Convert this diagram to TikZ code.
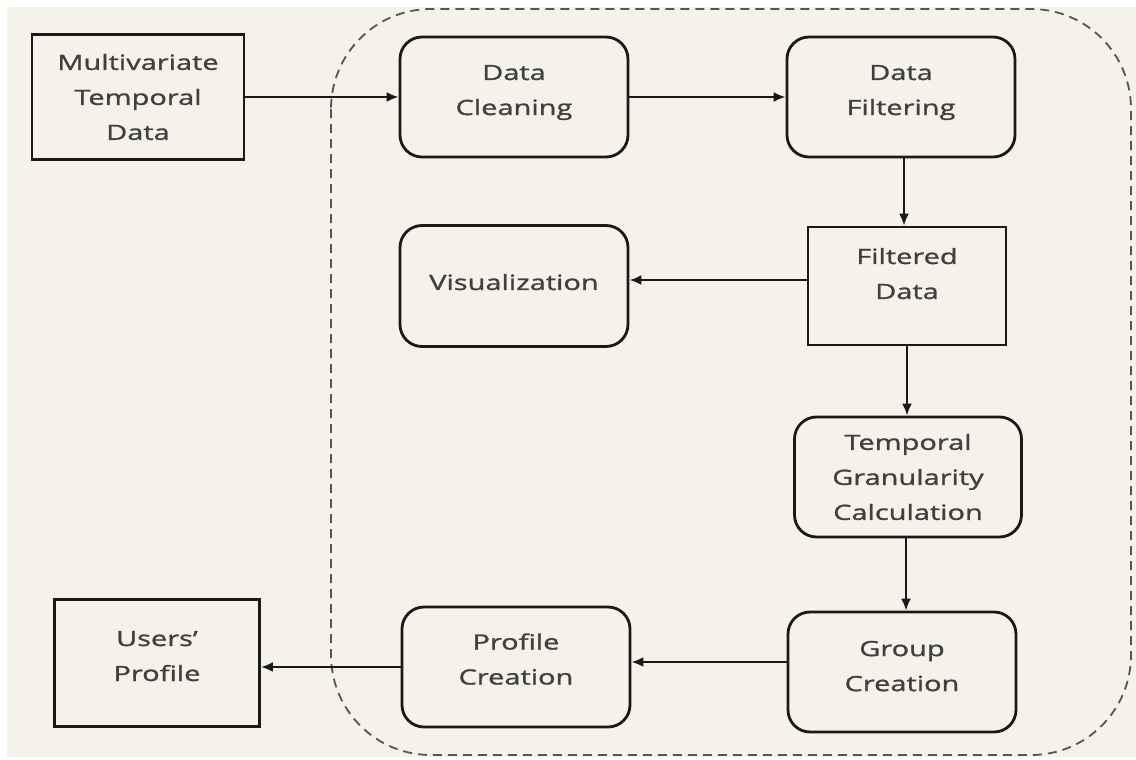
\documentclass[tikz,border=0pt]{standalone}
\usepackage{fontspec}
\setmainfont{Open Sans}[FakeStretch=1.38, FakeBold=1.3]
\usetikzlibrary{arrows.meta}
\definecolor{bgbeige}{HTML}{F4F2E9}
\definecolor{txtgrey}{HTML}{404040}
\definecolor{dashgrey}{HTML}{555555}
\begin{document}
\begin{tikzpicture}[x=1pt,y=-1pt,
  every node/.style={font=\fontsize{21}{35}\selectfont, text=txtgrey, align=center, inner sep=0pt},
  sqbox/.style={draw=black!90, line width=2.8pt, fill=none},
  rbox/.style={draw=black!90, line width=2.8pt, rounded corners=22pt, minimum width=228pt, minimum height=120pt},
  conn/.style={draw=black!90, line width=2.2pt, -{Latex[length=12pt,width=10pt]}}
]
\useasboundingbox (0,0) rectangle (1136,760);
\fill[white] (0,0) rectangle (1136,760);
\fill[bgbeige] (7,7) rectangle (1136,757);
% dashed container
\draw[dashgrey, line width=1.8pt, dash pattern=on 9pt off 6pt, rounded corners=100pt] (331,9) rectangle (1131,755);

% nodes
\node[sqbox, minimum width=212pt, minimum height=125pt] (mtd) at (138,97) {Multivariate\\Temporal\\Data};
\node[rbox] (clean) at (514,97) {Data\\Cleaning\\[-21pt]};
\node[rbox] (filt) at (901,97) {Data\\Filtering\\[-21pt]};
\node[rbox, minimum height=121pt] (vis) at (514,286) {\raisebox{8pt}{Visualization}};
\node[sqbox, minimum width=198pt, minimum height=118pt] (fdata) at (907,286) {Filtered\\Data\\[-10pt]};
\node[rbox, minimum width=227pt] (tgc) at (908,477) {Temporal\\Granularity\\Calculation};
\node[rbox] (grp) at (902,672) {Group\\Creation\\[-23pt]};
\node[rbox] (prof) at (516,667) {Profile\\Creation\\[-19pt]};
\node[sqbox, minimum width=205pt, minimum height=127pt] (users) at (157,663) {Users’\\Profile\\[-21pt]};

% connectors
\draw[conn] (mtd.east) -- (clean.west);
\draw[conn] (clean.east) -- (filt.west);
\draw[conn] (filt.south -| 904,0) -- (fdata.north -| 904,0);
\draw[conn] (fdata.west |- 0,280) -- (vis.east |- 0,280);
\draw[conn] (fdata.south -| 907,0) -- (tgc.north -| 907,0);
\draw[conn] (tgc.south -| 906,0) -- (grp.north -| 906,0);
\draw[conn] (grp.west |- 0,662) -- (prof.east |- 0,662);
\draw[conn] (prof.west |- 0,667) -- (users.east |- 0,667);
\end{tikzpicture}
\end{document}
